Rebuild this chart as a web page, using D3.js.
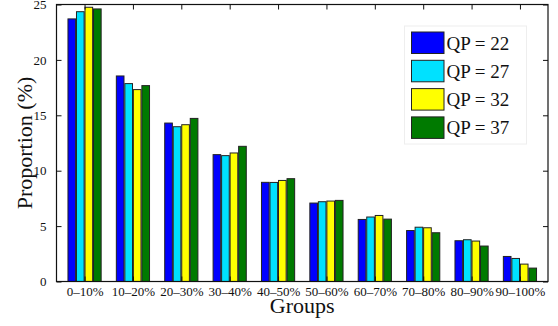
<!DOCTYPE html>
<html><head><meta charset="utf-8">
<script src="https://cdn.jsdelivr.net/npm/d3@7"></script>
<style>body{margin:0;background:#fff}svg{display:block}text{font-family:"Liberation Serif","Times New Roman",serif;fill:#111}</style>
</head><body><svg id="c" width="558" height="326"></svg>
<script>
const categories = ["0–10%","10–20%","20–30%","30–40%","40–50%","50–60%","60–70%","70–80%","80–90%","90–100%"];
const seriesNames = ["QP = 22","QP = 27","QP = 32","QP = 37"];
const qp22 = [23.7, 18.55, 14.3, 11.45, 8.95, 7.08, 5.6, 4.6, 3.68, 2.26];
const qp27 = [24.35, 17.86, 13.97, 11.36, 8.94, 7.2, 5.82, 4.9, 3.77, 2.08];
const qp32 = [24.75, 17.32, 14.15, 11.6, 9.12, 7.26, 5.96, 4.85, 3.65, 1.57];
const qp37 = [24.6, 17.68, 14.72, 12.2, 9.28, 7.32, 5.63, 4.4, 3.2, 1.21];
const colors = ["#0000ff","#00e1ff","#ffff00","#007a00"];
const yTicks = [0,5,10,15,20,25];

const series = [qp22, qp27, qp32, qp37];
const svg = d3.select("#c");
const L = 56.5, R = 548, T = 4.5, B = 281.5;
const x = d3.scaleLinear().domain([0.42, 10.58]).range([L, R]);
const y = d3.scaleLinear().domain([0, 25]).range([B, T]);
const pitch = 0.176, bw = 0.158;

const g = svg.append("g");
series.forEach((vals, s) => {
  g.selectAll(null).data(vals).enter().append("rect")
    .attr("x", (d, i) => x(i + 1 + (s - 1.5) * pitch - bw / 2))
    .attr("width", x(bw) - x(0))
    .attr("y", d => y(d))
    .attr("height", d => y(0) - y(d))
    .attr("fill", colors[s])
    .attr("stroke", "#222").attr("stroke-width", 1);
});

// axes frame
svg.append("rect").attr("x", L).attr("y", T).attr("width", R - L).attr("height", B - T)
  .attr("fill", "none").attr("stroke", "#111").attr("stroke-width", 1.2);

const tickLen = 5;
const xAxisB = d3.axisBottom(x).tickValues(d3.range(1, 11)).tickSize(-tickLen).tickPadding(10)
  .tickFormat((d) => categories[d - 1]);
const gxb = svg.append("g").attr("transform", `translate(0,${B})`).call(xAxisB);
const xAxisT = d3.axisTop(x).tickValues(d3.range(1, 11)).tickSize(-tickLen).tickFormat("");
const gxt = svg.append("g").attr("transform", `translate(0,${T})`).call(xAxisT);
const yAxisL = d3.axisLeft(y).tickValues(yTicks).tickSize(-tickLen).tickPadding(10);
const gyl = svg.append("g").attr("transform", `translate(${L},0)`).call(yAxisL);
const yAxisR = d3.axisRight(y).tickValues(yTicks).tickSize(-tickLen).tickFormat("");
const gyr = svg.append("g").attr("transform", `translate(${R},0)`).call(yAxisR);
[gxb, gxt, gyl, gyr].forEach(a => {
  a.select(".domain").remove();
  a.selectAll("line").attr("stroke", "#111");
  a.selectAll("text").attr("font-size", 13).attr("fill", "#111");
});
gxb.selectAll("text").attr("dy", null).attr("y", 14.5);

svg.append("text").attr("x", (L + R) / 2).attr("y", 313).attr("text-anchor", "middle")
  .attr("font-size", 22).text("Groups");
svg.append("text").attr("transform", `translate(32,${(T + B) / 2}) rotate(-90)`)
  .attr("text-anchor", "middle").attr("font-size", 22).text("Proportion (%)");

// legend
const lg = svg.append("g");
lg.append("rect").attr("x", 404.5).attr("y", 26).attr("width", 122).attr("height", 118)
  .attr("fill", "#fff").attr("stroke", "#eeeeee").attr("stroke-width", 1);
seriesNames.forEach((n, i) => {
  const yy = 32 + i * 28.3;
  lg.append("rect").attr("x", 411.5).attr("y", yy).attr("width", 32.5).attr("height", 21.5)
    .attr("fill", colors[i]).attr("stroke", "#222").attr("stroke-width", 1);
  lg.append("text").attr("x", 446.5).attr("y", yy + 17.5).attr("font-size", 19).text(n);
});
</script></body></html>
